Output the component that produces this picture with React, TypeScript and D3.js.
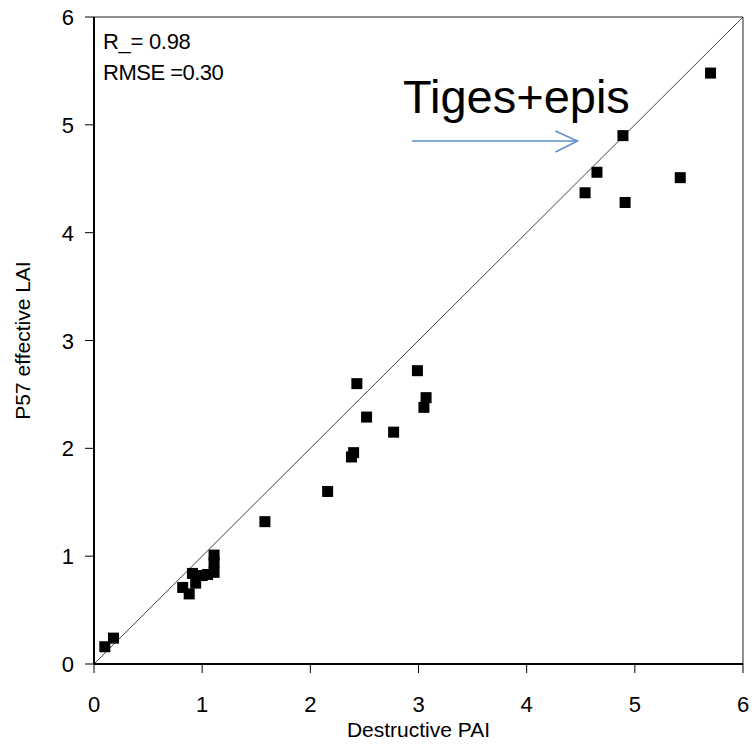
import React from "react";
import * as d3 from "d3";

// Destructive PAI (x) vs P57 effective LAI (y)
const destructivePAI = [
  0.10, 0.18,
  0.82, 0.88, 0.91, 0.94, 1.00, 1.05, 1.11, 1.11, 1.11,
  1.58, 2.16,
  2.38, 2.40, 2.43, 2.52, 2.77, 2.99, 3.05, 3.07,
  4.54, 4.65, 4.89, 4.91, 5.42, 5.70,
];
const effectiveLAI = [
  0.16, 0.24,
  0.71, 0.65, 0.84, 0.75, 0.82, 0.83, 1.01, 0.94, 0.85,
  1.32, 1.60,
  1.92, 1.96, 2.60, 2.29, 2.15, 2.72, 2.38, 2.47,
  4.37, 4.56, 4.90, 4.28, 4.51, 5.48,
];
const xTicks = [0, 1, 2, 3, 4, 5, 6];
const yTicks = [0, 1, 2, 3, 4, 5, 6];
const statLines = ["R_= 0.98", "RMSE =0.30"];
const annotation = "Tiges+epis";
const arrowFrom = [2.94, 4.85];
const arrowTo = [4.47, 4.85];

const W = 754;
const H = 750;
const left = 94;
const right = 743;
const top = 17;
const bottom = 664;
const FONT = "'Liberation Sans', Arial, sans-serif";

export default function App() {
  const x = d3.scaleLinear().domain([0, 6]).range([left, right]);
  const y = d3.scaleLinear().domain([0, 6]).range([bottom, top]);
  const size = 11;
  const ax = x(arrowFrom[0]);
  const bx = x(arrowTo[0]);
  const ay = y(arrowFrom[1]);

  return (
    <svg
      width={W}
      height={H}
      style={{ position: "absolute", left: 0, top: 0, background: "#fff" }}
      fontFamily={FONT}
    >
      <rect x={0} y={0} width={W} height={H} fill="#fff" />
      {/* frame */}
      <line x1={left} x2={right} y1={top} y2={top} stroke="#222" strokeWidth={1} />
      <line x1={right} x2={right} y1={top} y2={bottom} stroke="#222" strokeWidth={1} />
      {/* 1:1 line */}
      <line x1={x(0)} y1={y(0)} x2={x(6)} y2={y(6)} stroke="#444" strokeWidth={1} />
      {/* axes */}
      <line x1={left} x2={right} y1={bottom} y2={bottom} stroke="#000" strokeWidth={2} />
      <line x1={left} x2={left} y1={top} y2={bottom} stroke="#000" strokeWidth={2} />
      {xTicks.map((t) => (
        <g key={"x" + t}>
          <line x1={x(t)} x2={x(t)} y1={bottom} y2={bottom + 9} stroke="#000" strokeWidth={1} />
          <text x={x(t)} y={712} fontSize={22} textAnchor="middle" fill="#000">
            {t}
          </text>
        </g>
      ))}
      {yTicks.map((t) => (
        <g key={"y" + t}>
          <line x1={left - 9} x2={left} y1={y(t)} y2={y(t)} stroke="#000" strokeWidth={1} />
          <text x={74} y={y(t) + 8} fontSize={22} textAnchor="end" fill="#000">
            {t}
          </text>
        </g>
      ))}
      <text x={(left + right) / 2} y={737} fontSize={21} textAnchor="middle" fill="#000">
        Destructive PAI
      </text>
      <text
        transform={`translate(30,${(top + bottom) / 2}) rotate(-90)`}
        fontSize={21}
        textAnchor="middle"
        fill="#000"
      >
        P57 effective LAI
      </text>
      {/* points */}
      {destructivePAI.map((v, i) => (
        <rect
          key={i}
          x={x(v) - size / 2}
          y={y(effectiveLAI[i]) - size / 2}
          width={size}
          height={size}
          fill="#000"
        />
      ))}
      {/* statistics */}
      <text x={103} y={49} fontSize={22} fill="#000" letterSpacing={-0.3}>
        {statLines[0]}
      </text>
      <text x={103} y={80} fontSize={22} fill="#000" letterSpacing={-0.5}>
        {statLines[1]}
      </text>
      {/* annotation */}
      <text x={403} y={113} fontSize={47} fill="#000">
        {annotation}
      </text>
      <line x1={ax} x2={bx} y1={ay} y2={ay} stroke="#5b8dcf" strokeWidth={1.5} />
      <polyline
        points={`${bx - 22},${ay - 10} ${bx},${ay} ${bx - 22},${ay + 11}`}
        fill="none"
        stroke="#5b8dcf"
        strokeWidth={1.5}
      />
    </svg>
  );
}
